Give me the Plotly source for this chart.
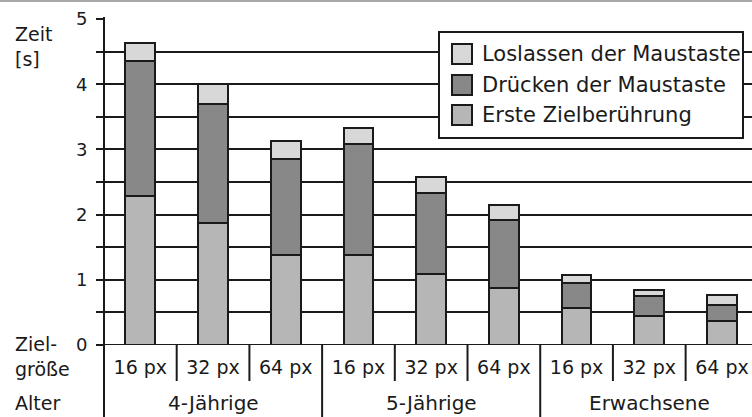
import plotly.graph_objects as go

# ---- data ----
groups = ["4-Jährige", "5-Jährige", "Erwachsene"]
sizes = ["16 px", "32 px", "64 px"]
categories = [g + " " + s for g in groups for s in sizes]
erste = [2.29, 1.87, 1.38, 1.38, 1.09, 0.87, 0.56, 0.44, 0.37]
druecken = [2.07, 1.83, 1.47, 1.71, 1.24, 1.05, 0.39, 0.31, 0.25]
loslassen = [0.27, 0.30, 0.28, 0.24, 0.25, 0.23, 0.12, 0.09, 0.15]
series_names = ["Erste Zielberührung", "Drücken der Maustaste", "Loslassen der Maustaste"]
series_values = [erste, druecken, loslassen]
series_colors = ["#b6b6b6", "#888888", "#d8d8d8"]
y_ticks = [0, 0.5, 1, 1.5, 2, 2.5, 3, 3.5, 4, 4.5, 5]
y_ticktext = ["0", "", "1", "", "2", "", "3", "", "4", "", "5"]

FONT = "DejaVu Sans"
INK = "#1a1a1a"

xpos = list(range(len(categories)))
x_ticktext = [s for g in groups for s in sizes]

fig = go.Figure()
for name, vals, col in zip(series_names, series_values, series_colors):
    fig.add_trace(go.Bar(
        x=xpos, y=vals, name=name, width=0.41,
        marker=dict(color=col, line=dict(color=INK, width=2)),
        showlegend=False,
    ))

fig.update_layout(
    width=752, height=417,
    margin=dict(l=104, r=0, t=19, b=72, autoexpand=False),
    barmode="stack",
    plot_bgcolor="white", paper_bgcolor="white",
    font=dict(family=FONT, color=INK),
)
fig.update_xaxes(
    range=[-0.5, 8.413], tickvals=xpos, ticktext=x_ticktext,
    tickfont=dict(size=19, family=FONT, color=INK),
    showgrid=False, zeroline=False, showline=False, ticks="",
    ticklabelstandoff=9, automargin=False,
)
fig.update_yaxes(
    range=[0, 5], tickvals=y_ticks, ticktext=y_ticktext,
    tickfont=dict(size=18, family=FONT, color=INK),
    showgrid=True, gridcolor=INK, gridwidth=2,
    zeroline=False, showline=False,
    ticks="outside", ticklen=7, tickwidth=2, tickcolor=INK,
    ticklabelstandoff=5, automargin=False,
)

def py(pix):  # pixel row -> paper y
    return (345 - pix) / 326.0

def px(pix):  # pixel col -> paper x
    return (pix - 104) / 648.0

shapes = []
# axis line (extends down to bottom)
shapes.append(dict(type="line", xref="paper", yref="paper", x0=0, x1=0,
                   y0=py(17), y1=py(417), line=dict(color=INK, width=2)))
# baseline
shapes.append(dict(type="line", xref="paper", yref="y", x0=px(97), x1=1,
                   y0=0, y1=0, line=dict(color=INK, width=2)))
# separators below axis
for i in range(1, len(categories)):
    bottom = py(417) if i % 3 == 0 else py(381)
    shapes.append(dict(type="line", xref="x", yref="paper", x0=i - 0.5, x1=i - 0.5,
                       y0=0, y1=bottom, line=dict(color=INK, width=2)))
# top grey page line
shapes.append(dict(type="line", xref="paper", yref="paper", x0=px(0), x1=1,
                   y0=py(1), y1=py(1), line=dict(color="#a8a8a8", width=2)))

# legend box (drawn manually)
shapes.append(dict(type="rect", xref="paper", yref="paper",
                   x0=px(439), x1=px(743), y0=py(138), y1=py(32),
                   fillcolor="white", line=dict(color=INK, width=2), layer="above"))
annotations = []
legend_order = [2, 1, 0]
row_centers = [54, 85, 115]
for rc, idx in zip(row_centers, legend_order):
    shapes.append(dict(type="rect", xref="paper", yref="paper",
                       x0=px(452), x1=px(472), y0=py(rc + 10), y1=py(rc - 10),
                       fillcolor=series_colors[idx], line=dict(color=INK, width=2),
                       layer="above"))
    annotations.append(dict(xref="paper", yref="paper", x=px(480), y=py(rc),
                            text=series_names[idx], showarrow=False,
                            xanchor="left", yanchor="middle",
                            font=dict(size=21, family=FONT, color=INK)))

# group labels
for gi, g in enumerate(groups):
    annotations.append(dict(xref="x", yref="paper", x=gi * 3 + 1, y=py(403),
                            text=g, showarrow=False, xanchor="center", yanchor="middle",
                            font=dict(size=20, family=FONT, color=INK)))
# left labels
annotations.append(dict(xref="paper", yref="paper", x=px(13), y=py(47),
                        text="Zeit<br>[s]", showarrow=False, xanchor="left",
                        yanchor="middle", align="left",
                        font=dict(size=19, family=FONT, color=INK)))
annotations.append(dict(xref="paper", yref="paper", x=px(13), y=py(356),
                        text="Ziel-<br>größe", showarrow=False, xanchor="left",
                        yanchor="middle", align="left",
                        font=dict(size=19, family=FONT, color=INK)))
annotations.append(dict(xref="paper", yref="paper", x=px(13), y=py(403),
                        text="Alter", showarrow=False, xanchor="left",
                        yanchor="middle", align="left",
                        font=dict(size=19, family=FONT, color=INK)))

fig.update_layout(shapes=shapes, annotations=annotations)
fig.write_html("out.html", config={"displayModeBar": False},
               post_script="document.body.style.margin='0';")
